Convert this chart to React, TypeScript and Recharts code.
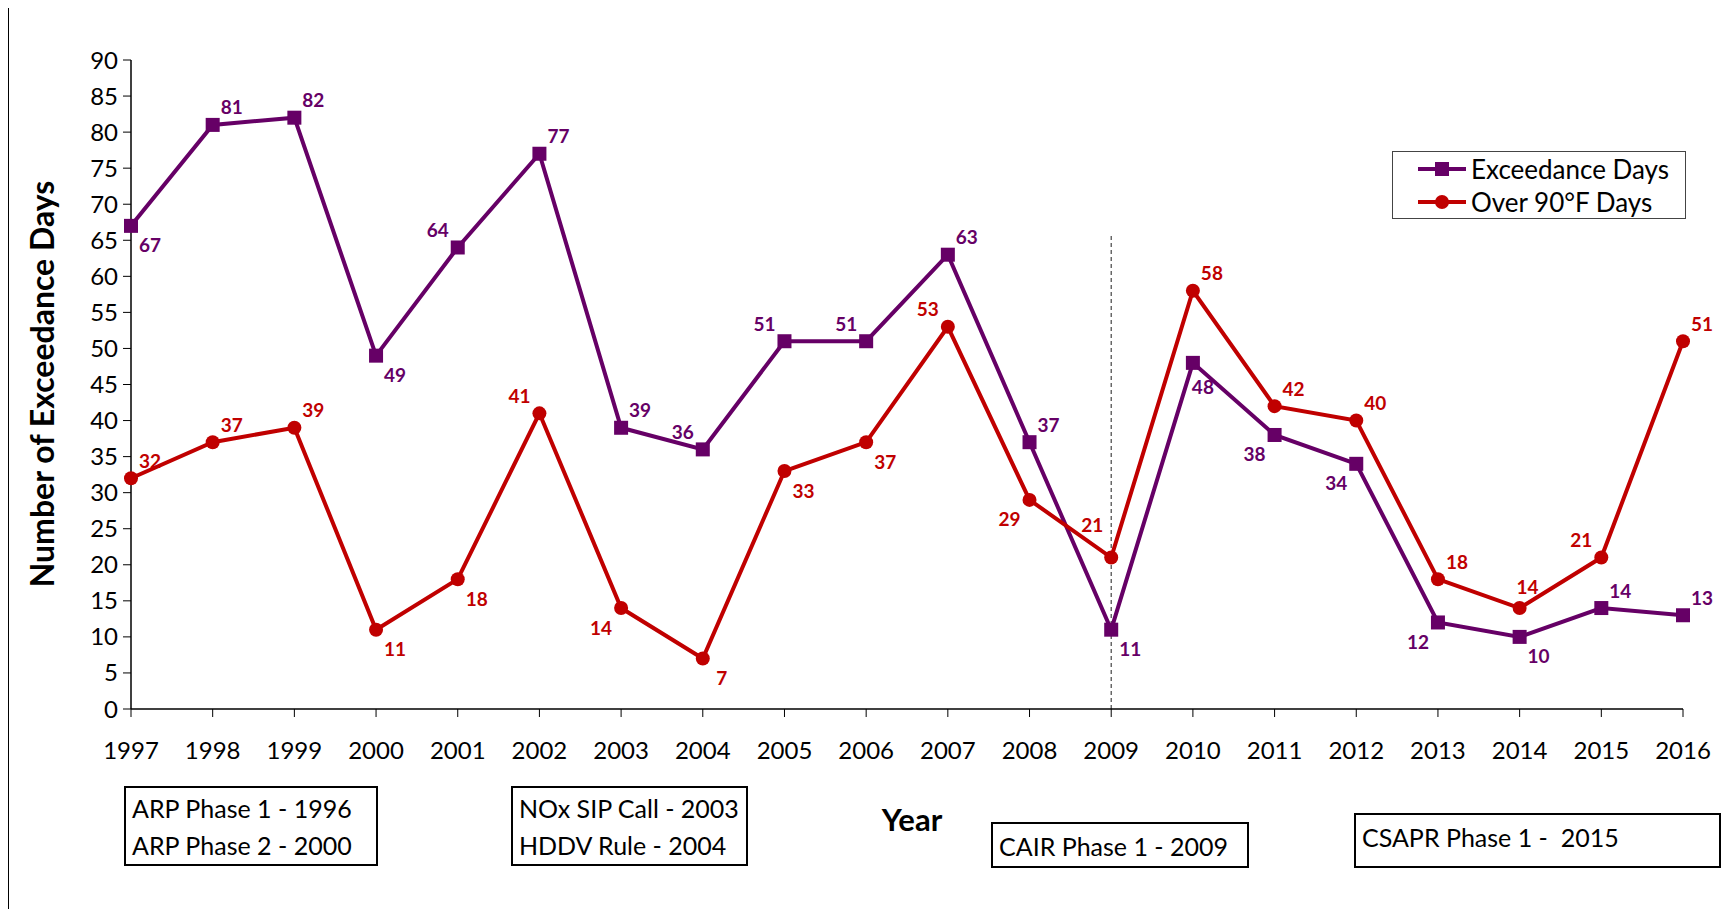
import { LineChart, Line, XAxis, YAxis, ReferenceLine } from "recharts";

const years = ["1997", "1998", "1999", "2000", "2001", "2002", "2003", "2004", "2005", "2006", "2007", "2008", "2009", "2010", "2011", "2012", "2013", "2014", "2015", "2016"];
const exceedanceDays = [67, 81, 82, 49, 64, 77, 39, 36, 51, 51, 63, 37, 11, 48, 38, 34, 12, 10, 14, 13];
const over90Days = [32, 37, 39, 11, 18, 41, 14, 7, 33, 37, 53, 29, 21, 58, 42, 40, 18, 14, 21, 51];
const yTicks = [0, 5, 10, 15, 20, 25, 30, 35, 40, 45, 50, 55, 60, 65, 70, 75, 80, 85, 90];

// where each data label sits relative to its point
const exceedanceLabelSide = ["br", "tr", "tr", "br", "tl", "tr", "tr", "tl", "tl", "tl", "tr", "tr", "br", "b", "bl", "bl", "bl", "br", "tr", "tr"];
const over90LabelSide = ["tr", "tr", "tr", "br", "br", "tl", "bl", "br", "br", "br", "tl", "bl", "tlh", "tr", "tr", "tr", "tr", "t", "tl", "tr"];

const PURPLE = "#660066";
const RED = "#c00000";
const FONT = "Lato, 'Open Sans', sans-serif";

const data = years.map((year, i) => ({
  year,
  exceedance: exceedanceDays[i],
  over90: over90Days[i],
}));

const offsets: Record<string, [number, number]> = {
  tr: [19, -18],
  tl: [-20, -18],
  tlh: [-19, -33],
  br: [19, 19],
  bl: [-20, 19],
  t: [8, -22],
  b: [10, 24],
};

function makeLabel(sides: string[], color: string) {
  return (props: any) => {
    const { x, y, index, value } = props;
    const [dx, dy] = offsets[sides[index]] || [0, -16];
    return (
      <text
        key={`lbl-${color}-${index}`}
        x={x + dx}
        y={y + dy}
        textAnchor="middle"
        dominantBaseline="central"
        fontFamily={FONT}
        fontWeight={700}
        fontSize={19}
        fill={color}
      >
        {value}
      </text>
    );
  };
}

const SquareDot = (props: any) => {
  const { cx, cy, index } = props;
  return <rect key={`sq-${index}`} x={cx - 7} y={cy - 7} width={14} height={14} fill={PURPLE} />;
};

const legendItems = [
  { name: "Exceedance Days", color: PURPLE, square: true },
  { name: "Over 90°F Days", color: RED, square: false },
];

const boxStyle = {
  position: "absolute" as const,
  border: "2px solid #000",
  background: "#fff",
  fontFamily: FONT,
  fontSize: 25,
  color: "#000",
  boxSizing: "border-box" as const,
  padding: "2px 6px",
  lineHeight: "37px",
};

export default function App() {
  return (
    <div style={{ position: "absolute", left: 0, top: 0, width: 1730, height: 909, background: "#fff", overflow: "hidden" }}>
      <div style={{ position: "absolute", left: 8, top: 8, width: 0, height: 901, borderLeft: "1.5px solid #000" }} />
      <LineChart width={1730} height={909} data={data} margin={{ top: 60, right: 47, left: 71, bottom: 160 }}>
        <XAxis
          dataKey="year"
          interval={0}
          height={40}
          tickSize={8}
          tickMargin={25}
          tick={{ fontSize: 24, fill: "#000", fontFamily: FONT }}
          tickLine={{ stroke: "#000" }}
          axisLine={{ stroke: "#000", strokeWidth: 1.5 }}
        />
        <YAxis
          domain={[0, 90]}
          ticks={yTicks}
          interval={0}
          width={60}
          tickSize={8}
          tickMargin={5}
          tick={{ fontSize: 24, fill: "#000", fontFamily: FONT }}
          tickLine={{ stroke: "#000" }}
          axisLine={{ stroke: "#000", strokeWidth: 1.5 }}
        />
        <ReferenceLine
          segment={[
            { x: "2009", y: 0 },
            { x: "2009", y: 65.7 },
          ]}
          stroke="#444"
          strokeDasharray="4 3"
          strokeWidth={1.2}
        />
        <Line
          dataKey="exceedance"
          name="Exceedance Days"
          stroke={PURPLE}
          strokeWidth={4}
          dot={SquareDot}
          activeDot={false}
          label={makeLabel(exceedanceLabelSide, PURPLE)}
          isAnimationActive={false}
        />
        <Line
          dataKey="over90"
          name="Over 90°F Days"
          stroke={RED}
          strokeWidth={4}
          dot={{ r: 7, fill: RED, stroke: RED, strokeWidth: 0 }}
          activeDot={false}
          label={makeLabel(over90LabelSide, RED)}
          isAnimationActive={false}
        />
      </LineChart>

      {/* legend */}
      <div
        style={{
          position: "absolute",
          left: 1392,
          top: 151,
          width: 294,
          height: 68,
          border: "1.5px solid #444",
          background: "#fff",
          fontFamily: FONT,
          fontSize: 26,
          color: "#000",
          boxSizing: "border-box",
        }}
      >
        {legendItems.map((it) => (
          <div key={it.name} style={{ display: "flex", alignItems: "center", height: 33 }}>
            <svg width={56} height={20} style={{ marginLeft: 22, flexShrink: 0 }}>
              <line x1={3} y1={10} x2={51} y2={10} stroke={it.color} strokeWidth={4} />
              {it.square ? (
                <rect x={20} y={3} width={14} height={14} fill={it.color} />
              ) : (
                <circle cx={27} cy={10} r={7} fill={it.color} />
              )}
            </svg>
            <span style={{ whiteSpace: "nowrap" }}>{it.name}</span>
          </div>
        ))}
      </div>

      <div
        style={{
          position: "absolute",
          left: 41,
          top: 384,
          transform: "translate(-50%, -50%) rotate(-90deg)",
          whiteSpace: "nowrap",
          fontFamily: FONT,
          fontWeight: 700,
          fontSize: 32,
          color: "#000",
        }}
      >
        Number of Exceedance Days
      </div>
      <div
        style={{
          position: "absolute",
          left: 912,
          top: 819,
          transform: "translate(-50%, -50%)",
          fontFamily: FONT,
          fontWeight: 700,
          fontSize: 31,
          color: "#000",
        }}
      >
        Year
      </div>
      <div style={{ ...boxStyle, left: 124, top: 786, width: 254, height: 80 }}>
        ARP Phase 1 - 1996
        <br />
        ARP Phase 2 - 2000
      </div>
      <div style={{ ...boxStyle, left: 511, top: 786, width: 237, height: 80 }}>
        NOx SIP Call - 2003
        <br />
        HDDV Rule - 2004
      </div>
      <div style={{ ...boxStyle, left: 991, top: 822, width: 258, height: 46, lineHeight: "40px" }}>
        CAIR Phase 1 - 2009
      </div>
      <div style={{ ...boxStyle, left: 1354, top: 813, width: 367, height: 55, lineHeight: "40px" }}>
        CSAPR Phase 1 -&nbsp; 2015
      </div>
    </div>
  );
}
